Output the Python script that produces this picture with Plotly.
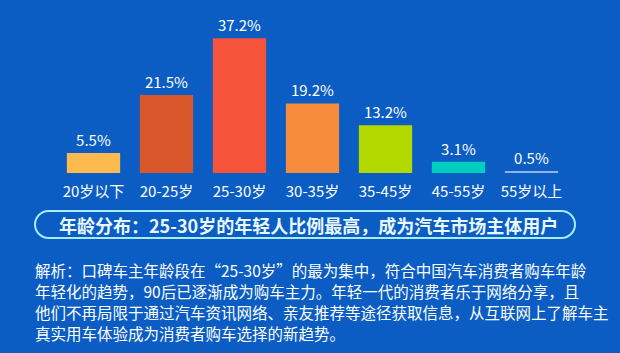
import plotly.graph_objects as go

categories = ["20岁以下", "20-25岁", "25-30岁", "30-35岁", "35-45岁", "45-55岁", "55岁以上"]
values = [5.5, 21.5, 37.2, 19.2, 13.2, 3.1, 0.5]
bar_colors = ["#fdbb4f", "#d9572b", "#f6543a", "#f78d3c", "#b3d800", "#00cfc0", "#8fb0e8"]
headline = "年龄分布：25-30岁的年轻人比例最高，成为汽车市场主体用户"
body_lines = [
    "解析：口碑车主年龄段在“25-30岁”的最为集中，符合中国汽车消费者购车年龄",
    "年轻化的趋势，90后已逐渐成为购车主力。年轻一代的消费者乐于网络分享，且",
    "他们不再局限于通过汽车资讯网络、亲友推荐等途径获取信息，从互联网上了解车主",
    "真实用车体验成为消费者购车选择的新趋势。",
]

W, H = 620, 353
ML, MR, MT, MB = 57, 52, 28, 180
PW, PH = W - ML - MR, H - MT - MB
BG = "#0b5dc4"
FONT = "Noto Sans CJK SC"


def px(x):
    return (x - ML) / PW


def py(y):
    return (H - MB - y) / PH


fig = go.Figure()
fig.add_trace(go.Bar(
    x=categories, y=values,
    marker=dict(color=bar_colors, line=dict(width=0)),
    text=[f"{v}%" for v in values],
    textposition="outside",
    textfont=dict(color="white", size=15, family=FONT),
    cliponaxis=False,
    width=0.73,
))

# rounded box
x0, x1, y0, y1 = 35, 575, 211, 238
r = (y1 - y0) / 2
k = 0.5523 * r
path = (
    f"M {px(x0 + r)} {py(y0)} L {px(x1 - r)} {py(y0)} "
    f"C {px(x1 - r + k)} {py(y0)} {px(x1)} {py(y0 + r - k)} {px(x1)} {py(y0 + r)} "
    f"C {px(x1)} {py(y0 + r + k)} {px(x1 - r + k)} {py(y1)} {px(x1 - r)} {py(y1)} "
    f"L {px(x0 + r)} {py(y1)} "
    f"C {px(x0 + r - k)} {py(y1)} {px(x0)} {py(y1 - r + k)} {px(x0)} {py(y1 - r)} "
    f"C {px(x0)} {py(y0 + r - k)} {px(x0 + r - k)} {py(y0)} {px(x0 + r)} {py(y0)} Z"
)
fig.add_shape(type="path", path=path, xref="paper", yref="paper",
              line=dict(color="#a8ecff", width=2), fillcolor="rgba(0,0,0,0)")

annotations = [dict(
    text=f"<b>{headline}</b>", x=px(308), y=py(225), xref="paper", yref="paper",
    xanchor="center", yanchor="middle", showarrow=False,
    font=dict(color="#e8f8ff", size=18, family=FONT),
)]
line_y = [270, 291, 312, 333]
for t, yy in zip(body_lines, line_y):
    annotations.append(dict(
        text=t, x=px(33), y=py(yy), xref="paper", yref="paper",
        xanchor="left", yanchor="middle", showarrow=False,
        font=dict(color="white", size=15.5, family=FONT),
    ))

fig.update_layout(
    width=W, height=H,
    margin=dict(l=ML, r=MR, t=MT, b=MB),
    paper_bgcolor=BG, plot_bgcolor=BG,
    showlegend=False,
    bargap=0.27,
    annotations=annotations,
    xaxis=dict(showgrid=False, zeroline=False, showline=False, ticks="",
               tickfont=dict(color="white", size=15, family=FONT),
               ticklabelstandoff=8, range=[-0.5, 6.5]),
    yaxis=dict(visible=False, range=[0, 40]),
)

fig.write_html("out.html")
